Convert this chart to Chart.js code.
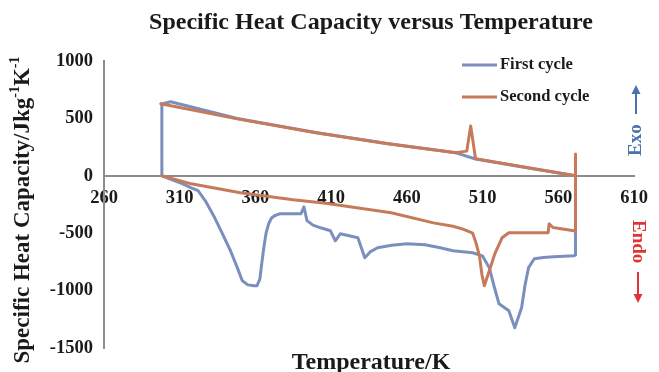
<!DOCTYPE html>
<html>
<head>
<meta charset="utf-8">
<script src="https://cdn.jsdelivr.net/npm/chart.js@4.4.1/dist/chart.umd.min.js"></script>
<style>
  html, body { margin: 0; padding: 0; background: #fff; }
</style>
</head>
<body>
<canvas id="chart" width="659" height="372"></canvas>
<script>
// First cycle: heating branch, jump at 571 K, cooling branch back
const firstT = [298.2, 312.0, 317.6, 322.1, 327.0, 333.1, 338.0, 343.5, 348.0, 351.3, 355.0, 359.0, 361.0, 362.9, 364.0, 365.5, 367.0, 368.7, 370.5, 372.6, 375.9, 390.1, 392.0, 394.0, 398.0, 403.0, 409.5, 412.7, 416.0, 427.6, 432.2, 436.0, 440.6, 450.0, 460.0, 472.0, 482.0, 490.4, 503.4, 509.8, 514.4, 517.5, 520.8, 527.3, 531.2, 535.7, 538.0, 540.3, 544.1, 550.0, 557.1, 570.0, 571.3, 571.3, 542.2, 505.3, 492.4, 447.1, 399.8, 348.0, 304.0, 298.2, 298.2];
const firstCp = [0, -70, -105, -130, -220, -366, -500, -653, -800, -915, -950, -958, -958, -900, -780, -627, -500, -418, -370, -348, -331, -331, -270, -390, -430, -453, -479, -566, -505, -540, -714, -660, -627, -605, -592, -600, -627, -653, -670, -697, -800, -960, -1115, -1176, -1324, -1150, -950, -800, -723, -712, -705, -697, -690, 0, 63, 146, 200, 281, 378, 499, 645, 625, 0];

// Second cycle: cooling branch from the left, jump at 571 K, heating branch back
const secondT = [297.5, 348.0, 399.8, 447.1, 492.4, 499.5, 502.1, 505.3, 542.2, 571.3, 571.3, 571.3, 556.4, 553.9, 553.2, 527.3, 522.8, 518.0, 514.4, 511.1, 509.5, 507.9, 505.5, 503.4, 497.0, 490.4, 477.5, 449.6, 406.3, 384.9, 350.0, 317.6, 298.2];
const secondCp = [627, 496, 375, 279, 200, 215, 435, 148, 65, 0, 190, -480, -450, -418, -496, -496, -540, -680, -827, -958, -860, -700, -580, -500, -465, -440, -410, -322, -240, -209, -148, -70, 0];

const xTicks = [260, 310, 360, 410, 460, 510, 560, 610];
const yTicks = [-1500, -1000, -500, 0, 500, 1000];

const seriesNames = ["First cycle", "Second cycle"];
const blue = "#7b8fbf";
const orange = "#c77a5a";
const serif = '"Liberation Serif", "Times New Roman", serif';

function toPoints(xs, ys) {
    return xs.map((x, i) => ({ x: x, y: ys[i] }));
}

// 文本、图例和 Exo/Endo 标注
const annotations = {
    id: "annotations",
    afterDraw(chart) {
        const ctx = chart.ctx;
        ctx.save();
        ctx.fillStyle = "#1a1a1a";
        ctx.textBaseline = "middle";
        ctx.textAlign = "center";

        ctx.font = "bold 24px " + serif;
        ctx.fillText("Specific Heat Capacity versus Temperature", 371, 23);
        ctx.fillText("Temperature/K", 371, 363);

        // y title with superscripts
        const parts = [["Specific Heat Capacity/Jkg", false], ["-1", true], ["K", false], ["-1", true]];
        const big = "bold 23px " + serif, small = "bold 14px " + serif;
        let total = 0;
        parts.forEach(p => { ctx.font = p[1] ? small : big; total += ctx.measureText(p[0]).width; });
        ctx.translate(23, 210);
        ctx.rotate(-Math.PI / 2);
        ctx.textAlign = "left";
        let x = -total / 2;
        parts.forEach(p => {
            ctx.font = p[1] ? small : big;
            ctx.fillText(p[0], x, p[1] ? -8 : 0);
            x += ctx.measureText(p[0]).width;
        });
        ctx.setTransform(1, 0, 0, 1, 0, 0);

        // legend
        const colors = [blue, orange];
        ctx.font = "bold 16.5px " + serif;
        ctx.lineWidth = 3;
        seriesNames.forEach((name, i) => {
            const y = 65 + i * 32;
            ctx.strokeStyle = colors[i];
            ctx.beginPath();
            ctx.moveTo(462, y);
            ctx.lineTo(497, y);
            ctx.stroke();
            ctx.fillStyle = "#1a1a1a";
            ctx.fillText(name, 500, y);
        });

        // Exo (up) and Endo (down)
        function arrow(color, ox, oy, angle, label, a0, a1) {
            ctx.save();
            ctx.translate(ox, oy);
            ctx.rotate(angle);
            ctx.fillStyle = color;
            ctx.strokeStyle = color;
            ctx.font = "bold 19px " + serif;
            ctx.fillText(label, 0, 0);
            ctx.lineWidth = 2;
            ctx.beginPath();
            ctx.moveTo(a0, 0);
            ctx.lineTo(a1 - 6, 0);
            ctx.stroke();
            ctx.beginPath();
            ctx.moveTo(a1, 0);
            ctx.lineTo(a1 - 9, -4.5);
            ctx.lineTo(a1 - 9, 4.5);
            ctx.closePath();
            ctx.fill();
            ctx.restore();
        }
        arrow("#4a72b0", 636, 156, -Math.PI / 2, "Exo", 42, 71);
        arrow("#e03434", 638, 220, Math.PI / 2, "Endo", 52, 83);

        ctx.restore();
    }
};

new Chart(document.getElementById("chart"), {
    type: "line",
    data: {
        datasets: [
            { label: seriesNames[1], data: toPoints(secondT, secondCp), borderColor: orange },
            { label: seriesNames[0], data: toPoints(firstT, firstCp), borderColor: blue }
        ]
    },
    options: {
        responsive: false,
        animation: false,
        layout: { padding: { top: 61, bottom: 24, right: 14, left: 0 } },
        elements: {
            line: { borderWidth: 3, tension: 0, fill: false, borderJoinStyle: "round", borderCapStyle: "round" },
            point: { radius: 0 }
        },
        plugins: { legend: { display: false }, tooltip: { enabled: false } },
        scales: {
            x: {
                type: "linear",
                position: { y: 0 },
                min: xTicks[0],
                max: xTicks[xTicks.length - 1],
                afterBuildTicks: s => { s.ticks = xTicks.map(v => ({ value: v })); },
                grid: { display: false, drawTicks: false },
                border: { display: true, color: "#8c8c8c", width: 2 },
                ticks: { padding: 11, color: "#1a1a1a", callback: v => String(v), font: { family: serif, size: 18.5, weight: "bold" } }
            },
            y: {
                type: "linear",
                min: yTicks[0],
                max: yTicks[yTicks.length - 1],
                afterBuildTicks: s => { s.ticks = yTicks.map(v => ({ value: v })); },
                afterFit: s => { s.width = 104; },
                grid: { display: false, drawTicks: false },
                border: { display: true, color: "#8c8c8c", width: 2 },
                ticks: { padding: 11, color: "#1a1a1a", callback: v => String(v), font: { family: serif, size: 18.5, weight: "bold" } }
            }
        }
    },
    plugins: [annotations]
});
</script>
</body>
</html>
